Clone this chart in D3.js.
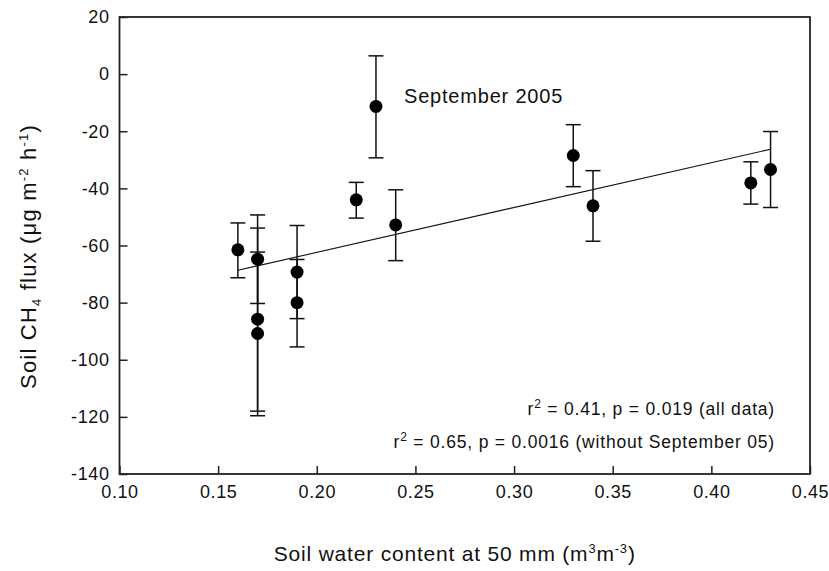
<!DOCTYPE html>
<html>
<head>
<meta charset="utf-8">
<script src="https://cdn.jsdelivr.net/npm/d3@7"></script>
<style>
  body { margin: 0; background: #fff; }
  svg { display: block; }
  text { font-family: "Liberation Sans", Arial, sans-serif; fill: #111; }
  .tick text { font-size: 18px; letter-spacing: 0.6px; }
  .axis-title { font-size: 21px; letter-spacing: 0.8px; }
  .note { font-size: 17.5px; letter-spacing: 0.8px; }
  .label { font-size: 20px; letter-spacing: 0.8px; }
</style>
</head>
<body>
<svg id="Vis1" width="829" height="571"></svg>
<script>
// soil water content (m3 m-3) for each sampling date
let water = [0.16, 0.17, 0.17, 0.17, 0.19, 0.19, 0.22, 0.23, 0.24, 0.33, 0.34, 0.42, 0.43];
// mean CH4 flux and the ends of its error bar
let flux = [-61.5, -64.8, -85.8, -90.8, -69.3, -80.0, -44.0, -11.3, -52.8, -28.5, -46.1, -38.1, -33.4];
let fluxHigh = [-52.1, -49.3, -53.9, -62.3, -53.0, -64.9, -37.9, 6.4, -40.5, -17.7, -33.8, -30.7, -20.1];
let fluxLow = [-71.3, -80.3, -118.0, -119.6, -85.6, -95.5, -50.4, -29.3, -65.3, -39.4, -58.5, -45.5, -46.7];

// regression line (all data)
let fitSlope = 157;
let fitIntercept = -93.8;
let fitRange = [0.16, 0.43];

let xTicks = [0.10, 0.15, 0.20, 0.25, 0.30, 0.35, 0.40, 0.45];
let yTicks = [20, 0, -20, -40, -60, -80, -100, -120, -140];

let drawScatterChart = function() {

  let svg = d3.select("body").select("svg#Vis1");

  const margin = {
    top: 17,
    bottom: 97,
    left: 119.5,
    right: 19
  };

  let bounds = svg.node().getBoundingClientRect();
  let plotWidth = bounds.width - margin.right - margin.left;
  let plotHeight = bounds.height - margin.top - margin.bottom;

  let xScale = d3.scaleLinear()
    .domain([0.10, 0.45])
    .range([0, plotWidth]);

  let yScale = d3.scaleLinear()
    .domain([-140, 20])
    .range([plotHeight, 0]);

  const plot = svg.append("g").attr("id", "plot");
  plot.attr("transform", translate(margin.left, margin.top));

  let xAxis = d3.axisBottom(xScale)
    .tickValues(xTicks)
    .tickFormat(d3.format(".2f"))
    .tickSizeInner(-8)
    .tickSizeOuter(0)
    .tickPadding(11);

  let yAxis = d3.axisLeft(yScale)
    .tickValues(yTicks)
    .tickFormat(d => String(d))
    .tickSizeInner(-8)
    .tickSizeOuter(0)
    .tickPadding(10);

  let xGroup = plot.append("g").attr("id", "x-axis");
  xGroup.attr("transform", translate(0, plotHeight));
  xGroup.call(xAxis);

  let yGroup = plot.append("g").attr("id", "y-axis");
  yGroup.call(yAxis);

  plot.selectAll(".domain").remove();
  plot.selectAll(".tick line").attr("stroke", "#222").attr("stroke-width", 1.5);
  plot.selectAll(".tick text").attr("fill", "#111");

  // frame
  plot.append("rect")
    .attr("x", 0)
    .attr("y", 0)
    .attr("width", plotWidth)
    .attr("height", plotHeight)
    .attr("fill", "none")
    .attr("stroke", "#222")
    .attr("stroke-width", 1.8);

  let rows = water.map((w, i) => ({
    w: w, mean: flux[i], hi: fluxHigh[i], lo: fluxLow[i]
  }));

  // regression line
  let fit = d3.line()
    .x(d => xScale(d))
    .y(d => yScale(fitIntercept + fitSlope * d));

  plot.append("path")
    .datum(fitRange)
    .attr("d", fit)
    .attr("fill", "none")
    .attr("stroke", "#111")
    .attr("stroke-width", 1.1);

  // error bars
  let bars = plot.append("g").attr("id", "errors")
    .attr("stroke", "#111")
    .attr("stroke-width", 1.5);

  const cap = 7.5;

  bars.selectAll("line.stem")
    .data(rows)
    .enter()
    .append("line")
    .attr("class", "stem")
    .attr("x1", d => xScale(d.w))
    .attr("x2", d => xScale(d.w))
    .attr("y1", d => yScale(d.hi))
    .attr("y2", d => yScale(d.lo));

  bars.selectAll("line.cap-hi")
    .data(rows)
    .enter()
    .append("line")
    .attr("class", "cap-hi")
    .attr("x1", d => xScale(d.w) - cap)
    .attr("x2", d => xScale(d.w) + cap)
    .attr("y1", d => yScale(d.hi))
    .attr("y2", d => yScale(d.hi));

  bars.selectAll("line.cap-lo")
    .data(rows)
    .enter()
    .append("line")
    .attr("class", "cap-lo")
    .attr("x1", d => xScale(d.w) - cap)
    .attr("x2", d => xScale(d.w) + cap)
    .attr("y1", d => yScale(d.lo))
    .attr("y2", d => yScale(d.lo));

  plot.append("g").attr("id", "points")
    .selectAll("circle")
    .data(rows)
    .enter()
    .append("circle")
    .attr("cx", d => xScale(d.w))
    .attr("cy", d => yScale(d.mean))
    .attr("r", 6.5)
    .attr("fill", "#000");

  // annotations
  plot.append("text")
    .attr("class", "label")
    .attr("x", 404 - margin.left)
    .attr("y", 103 - margin.top)
    .text("September 2005");

  const noteRight = 775 - margin.left;

  let note1 = plot.append("text")
    .attr("class", "note")
    .attr("x", noteRight)
    .attr("y", 415 - margin.top)
    .attr("text-anchor", "end");
  note1.append("tspan").text("r");
  note1.append("tspan").attr("dy", -7).attr("font-size", 12).text("2");
  note1.append("tspan").attr("dy", 7).text(" = 0.41, p = 0.019 (all data)");

  let note2 = plot.append("text")
    .attr("class", "note")
    .attr("x", noteRight)
    .attr("y", 448 - margin.top)
    .attr("text-anchor", "end");
  note2.append("tspan").text("r");
  note2.append("tspan").attr("dy", -7).attr("font-size", 12).text("2");
  note2.append("tspan").attr("dy", 7).text(" = 0.65, p = 0.0016 (without September 05)");

  // axis titles
  const xMiddle = margin.left + midpoint(xScale.range());
  const yMiddle = margin.top + midpoint(yScale.range());

  const xTitle = svg.append("text")
    .attr("class", "axis-title")
    .attr("x", xMiddle - 10)
    .attr("y", 561)
    .attr("text-anchor", "middle");
  xTitle.append("tspan").text("Soil water content at 50 mm (m");
  xTitle.append("tspan").attr("dy", -8).attr("font-size", 13).text("3");
  xTitle.append("tspan").attr("dy", 8).text("m");
  xTitle.append("tspan").attr("dy", -8).attr("font-size", 13).text("-3");
  xTitle.append("tspan").attr("dy", 8).text(")");

  const yTitleGroup = svg.append("g");
  yTitleGroup.attr("transform", translate(36, yMiddle + 11));

  const yTitle = yTitleGroup.append("text")
    .attr("class", "axis-title")
    .attr("x", 0)
    .attr("y", 0)
    .attr("text-anchor", "middle")
    .attr("transform", "rotate(-90)")
    .style("font-size", "22px")
    .style("letter-spacing", "1.2px");
  yTitle.append("tspan").text("Soil CH");
  yTitle.append("tspan").attr("dy", 5).attr("font-size", 13).text("4");
  yTitle.append("tspan").attr("dy", -5).text(" flux (\u03bcg  m");
  yTitle.append("tspan").attr("dy", -8).attr("font-size", 13).text("-2");
  yTitle.append("tspan").attr("dy", 8).text(" h");
  yTitle.append("tspan").attr("dy", -8).attr("font-size", 13).text("-1");
  yTitle.append("tspan").attr("dy", 8).text(")");
}

drawScatterChart();

/*
 * calculates the midpoint of a range given as a 2 element array
 */
function midpoint(range) {
  return range[0] + (range[1] - range[0]) / 2.0;
}

/*
 * returns a translate string for the transform attribute
 */
function translate(x, y) {
  return 'translate(' + String(x) + ',' + String(y) + ')';
}
</script>
</body>
</html>
